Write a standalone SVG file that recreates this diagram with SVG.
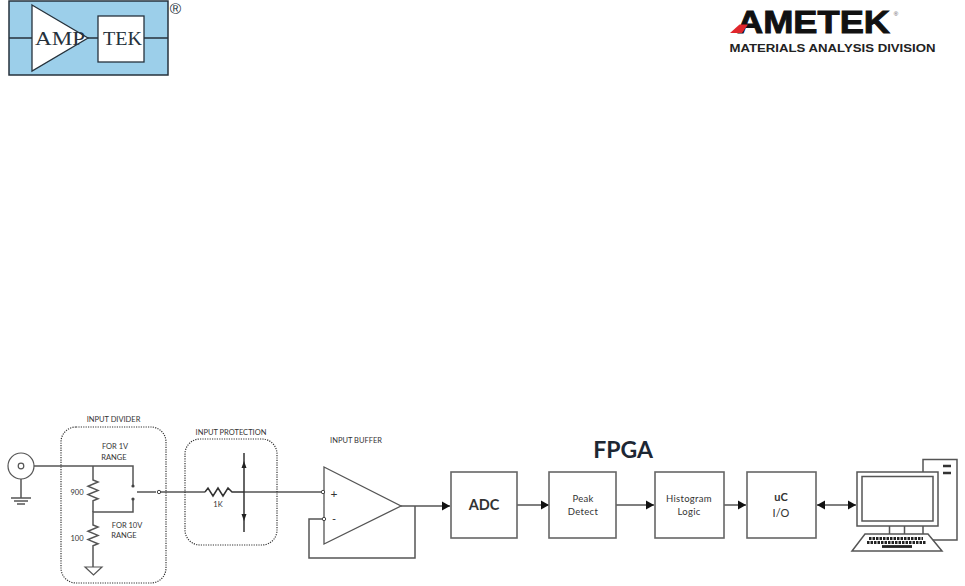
<svg xmlns="http://www.w3.org/2000/svg" width="965" height="586" viewBox="0 0 965 586">
<defs>
<marker id="arrow" markerUnits="userSpaceOnUse" markerWidth="10" markerHeight="10" refX="8" refY="5" orient="auto-start-reverse"><path d="M0,0.5 L8,5 L0,9.5 Z" fill="#111"/></marker>
</defs>
<style>
.w{fill:none;stroke:#555;stroke-width:1.5}
.d{fill:none;stroke:#333;stroke-width:1.5}
.box{fill:#fff;stroke:#666;stroke-width:1.6}
.dash{fill:none;stroke:#333;stroke-width:1.2;stroke-dasharray:1.2 1.2}
.pin{fill:#fff;stroke:#444;stroke-width:1}
.t{font-family:Lato,"Open Sans",sans-serif;fill:#333;text-anchor:middle}
.s{font-size:7.5px}
.m{font-size:9.5px;letter-spacing:.3px}
.pc{fill:#fff;stroke:#555;stroke-width:1.5}
</style>
<rect width="965" height="586" fill="#fff"/>
<g id="amptek-logo">
<rect x="9" y="1" width="159" height="74" fill="#9ccfea" stroke="#26323c" stroke-width="1.5"/>
<path d="M9,38H32M88,38H98M144,38H168" stroke="#26323c" stroke-width="1.3" fill="none"/>
<path d="M32,5L88,38L32,71Z" fill="#fff" stroke="#26323c" stroke-width="1.3"/>
<rect x="98" y="16" width="46" height="46" fill="#fff" stroke="#26323c" stroke-width="1.3"/>
<text x="35" y="45" font-family="Liberation Serif,serif" font-size="18" textLength="50" lengthAdjust="spacingAndGlyphs" fill="#26323c">AMP</text>
<text x="103" y="45" font-family="Liberation Serif,serif" font-size="18" textLength="39" lengthAdjust="spacingAndGlyphs" fill="#26323c">TEK</text>
<text x="175.500" y="14" font-family="Liberation Sans,sans-serif" font-size="15.500" text-anchor="middle" fill="#26323c">®</text>
</g>
<g id="ametek-logo">
<text x="737" y="33" font-family="Liberation Sans,sans-serif" font-weight="700" font-size="32" textLength="153" lengthAdjust="spacingAndGlyphs" fill="#111" stroke="#111" stroke-width=".9">AMETEK</text>
<path d="M730,33L739.500,24.500H748L742,33Z" fill="#e0262c"/>
<text x="896" y="15.500" font-family="Liberation Sans,sans-serif" font-size="6" text-anchor="middle" fill="#555">®</text>
<text x="729.500" y="52" font-family="Liberation Sans,sans-serif" font-weight="700" font-size="11.500" textLength="206" lengthAdjust="spacingAndGlyphs" fill="#222">MATERIALS ANALYSIS DIVISION</text>
</g>
<g id="connectors">
<path class="w" d="M34,466H133V485.500"/>
<path class="w" d="M21,479V498"/>
<path class="w" d="M93,466V480l5,2 -10,4.200 10,4.200 -10,4.200 10,4.200 -5,2V512"/>
<path class="w" d="M133,499V512H93V525l5,2 -10,4.200 10,4.200 -10,4.200 10,4.200 -5,2V567"/>
<path class="w" d="M137,492H156"/>
<path class="w" d="M161,492H205"/>
<path class="d" d="M205,492l3,-4 5,8 5,-8 5,8 5,-8 4,4H244"/>
<path class="w" d="M244,492H321"/>
<path class="d" d="M244,453V532"/>
<path class="w" d="M401,506H450" marker-end="url(#arrow)"/>
<path class="w" d="M415,506V558H309V519H322"/>
<path class="w" d="M517,505H549" marker-end="url(#arrow)"/>
<path class="w" d="M616,505H654" marker-end="url(#arrow)"/>
<path class="w" d="M724,505H746" marker-end="url(#arrow)"/>
<path class="w" d="M817,505H856" marker-start="url(#arrow)" marker-end="url(#arrow)"/>
</g>
<g id="bnc-connector">
<circle cx="21" cy="466" r="13" fill="#fff" stroke="#555" stroke-width="1.2"/>
<circle cx="21" cy="466" r="2.800" fill="#fff" stroke="#555" stroke-width="1.2"/>
<path class="w" d="M11,498H31M14,501H28M17,504H25"/>
</g>
<g id="input-divider">
<rect class="dash" x="61" y="427" width="105" height="156" rx="15"/>
<text class="t s" x="113.500" y="422">INPUT DIVIDER</text>
<text class="t s" x="115" y="449">FOR 1V</text>
<text class="t s" x="114" y="460">RANGE</text>
<text class="t s" x="127" y="528">FOR 10V</text>
<text class="t s" x="124" y="538">RANGE</text>
<text class="t s" x="77" y="494.500">900</text>
<text class="t s" x="77" y="541">100</text>
<path d="M85,567H102L93.500,575Z" fill="#fff" stroke="#555" stroke-width="1.2"/>
<circle cx="133" cy="486" r="1.600" fill="#444"/>
<circle cx="133" cy="499" r="1.600" fill="#444"/>
<circle class="pin" cx="159" cy="492" r="1.700"/>
</g>
<g id="input-protection">
<rect class="dash" x="185" y="439" width="92" height="106" rx="15"/>
<text class="t s" x="231" y="435">INPUT PROTECTION</text>
<text class="t s" x="218" y="507">1K</text>
<path d="M244,461L241.500,468H246.500Z" fill="#222"/>
<path d="M244,521L241.500,514H246.500Z" fill="#222"/>
</g>
<g id="input-buffer">
<text class="t s" x="356" y="443">INPUT BUFFER</text>
<path d="M324,467L401,506L324,544Z" fill="#fff" stroke="#555" stroke-width="1.300"/>
<circle class="pin" cx="323" cy="492" r="1.700"/>
<circle class="pin" cx="324" cy="519" r="1.700"/>
<text class="t" x="334" y="498" font-size="12">+</text>
<text class="t" x="334" y="523" font-size="11">-</text>
</g>
<g id="adc">
<rect class="box" x="451" y="472" width="66" height="66"/>
<text class="t" x="484" y="510" font-size="14.500" font-weight="700">ADC</text>
</g>
<text class="t" x="623" y="458" font-size="23" font-weight="700" style="fill:#1d2733">FPGA</text>
<g id="peak-detect">
<rect class="box" x="549" y="472" width="67" height="66"/>
<text class="t m" x="583" y="502">Peak</text>
<text class="t m" x="583" y="515">Detect</text>
</g>
<g id="histogram-logic">
<rect class="box" x="655" y="472" width="69" height="66"/>
<text class="t m" x="689" y="502">Histogram</text>
<text class="t m" x="689" y="515">Logic</text>
</g>
<g id="uc-io">
<rect class="box" x="747" y="472" width="69" height="66"/>
<text class="t" x="781" y="501" font-size="11" font-weight="700">uC</text>
<text class="t" x="781" y="517" font-size="11">I/O</text>
</g>
<g id="computer">
<path class="pc" d="M923,472V459.500H957V540H930"/>
<path d="M943,466H951M943,473H951" stroke="#333" stroke-width="2.400"/>
<rect class="pc" x="857" y="472" width="81" height="54"/>
<rect class="pc" x="862" y="476.500" width="71" height="44.500" stroke-width="1.800"/>
<path class="pc" d="M889.500,526V534M904.500,526V534M923,526V534"/>
<path class="pc" d="M865,534H928L942,551H852Z"/>
<path d="M869,538.500H923M867,542.500H926" stroke="#222" stroke-width="2.800" stroke-dasharray="2.500 1" fill="none"/>
<path d="M882,546.500H912" stroke="#222" stroke-width="2.800"/>
</g>
</svg>
